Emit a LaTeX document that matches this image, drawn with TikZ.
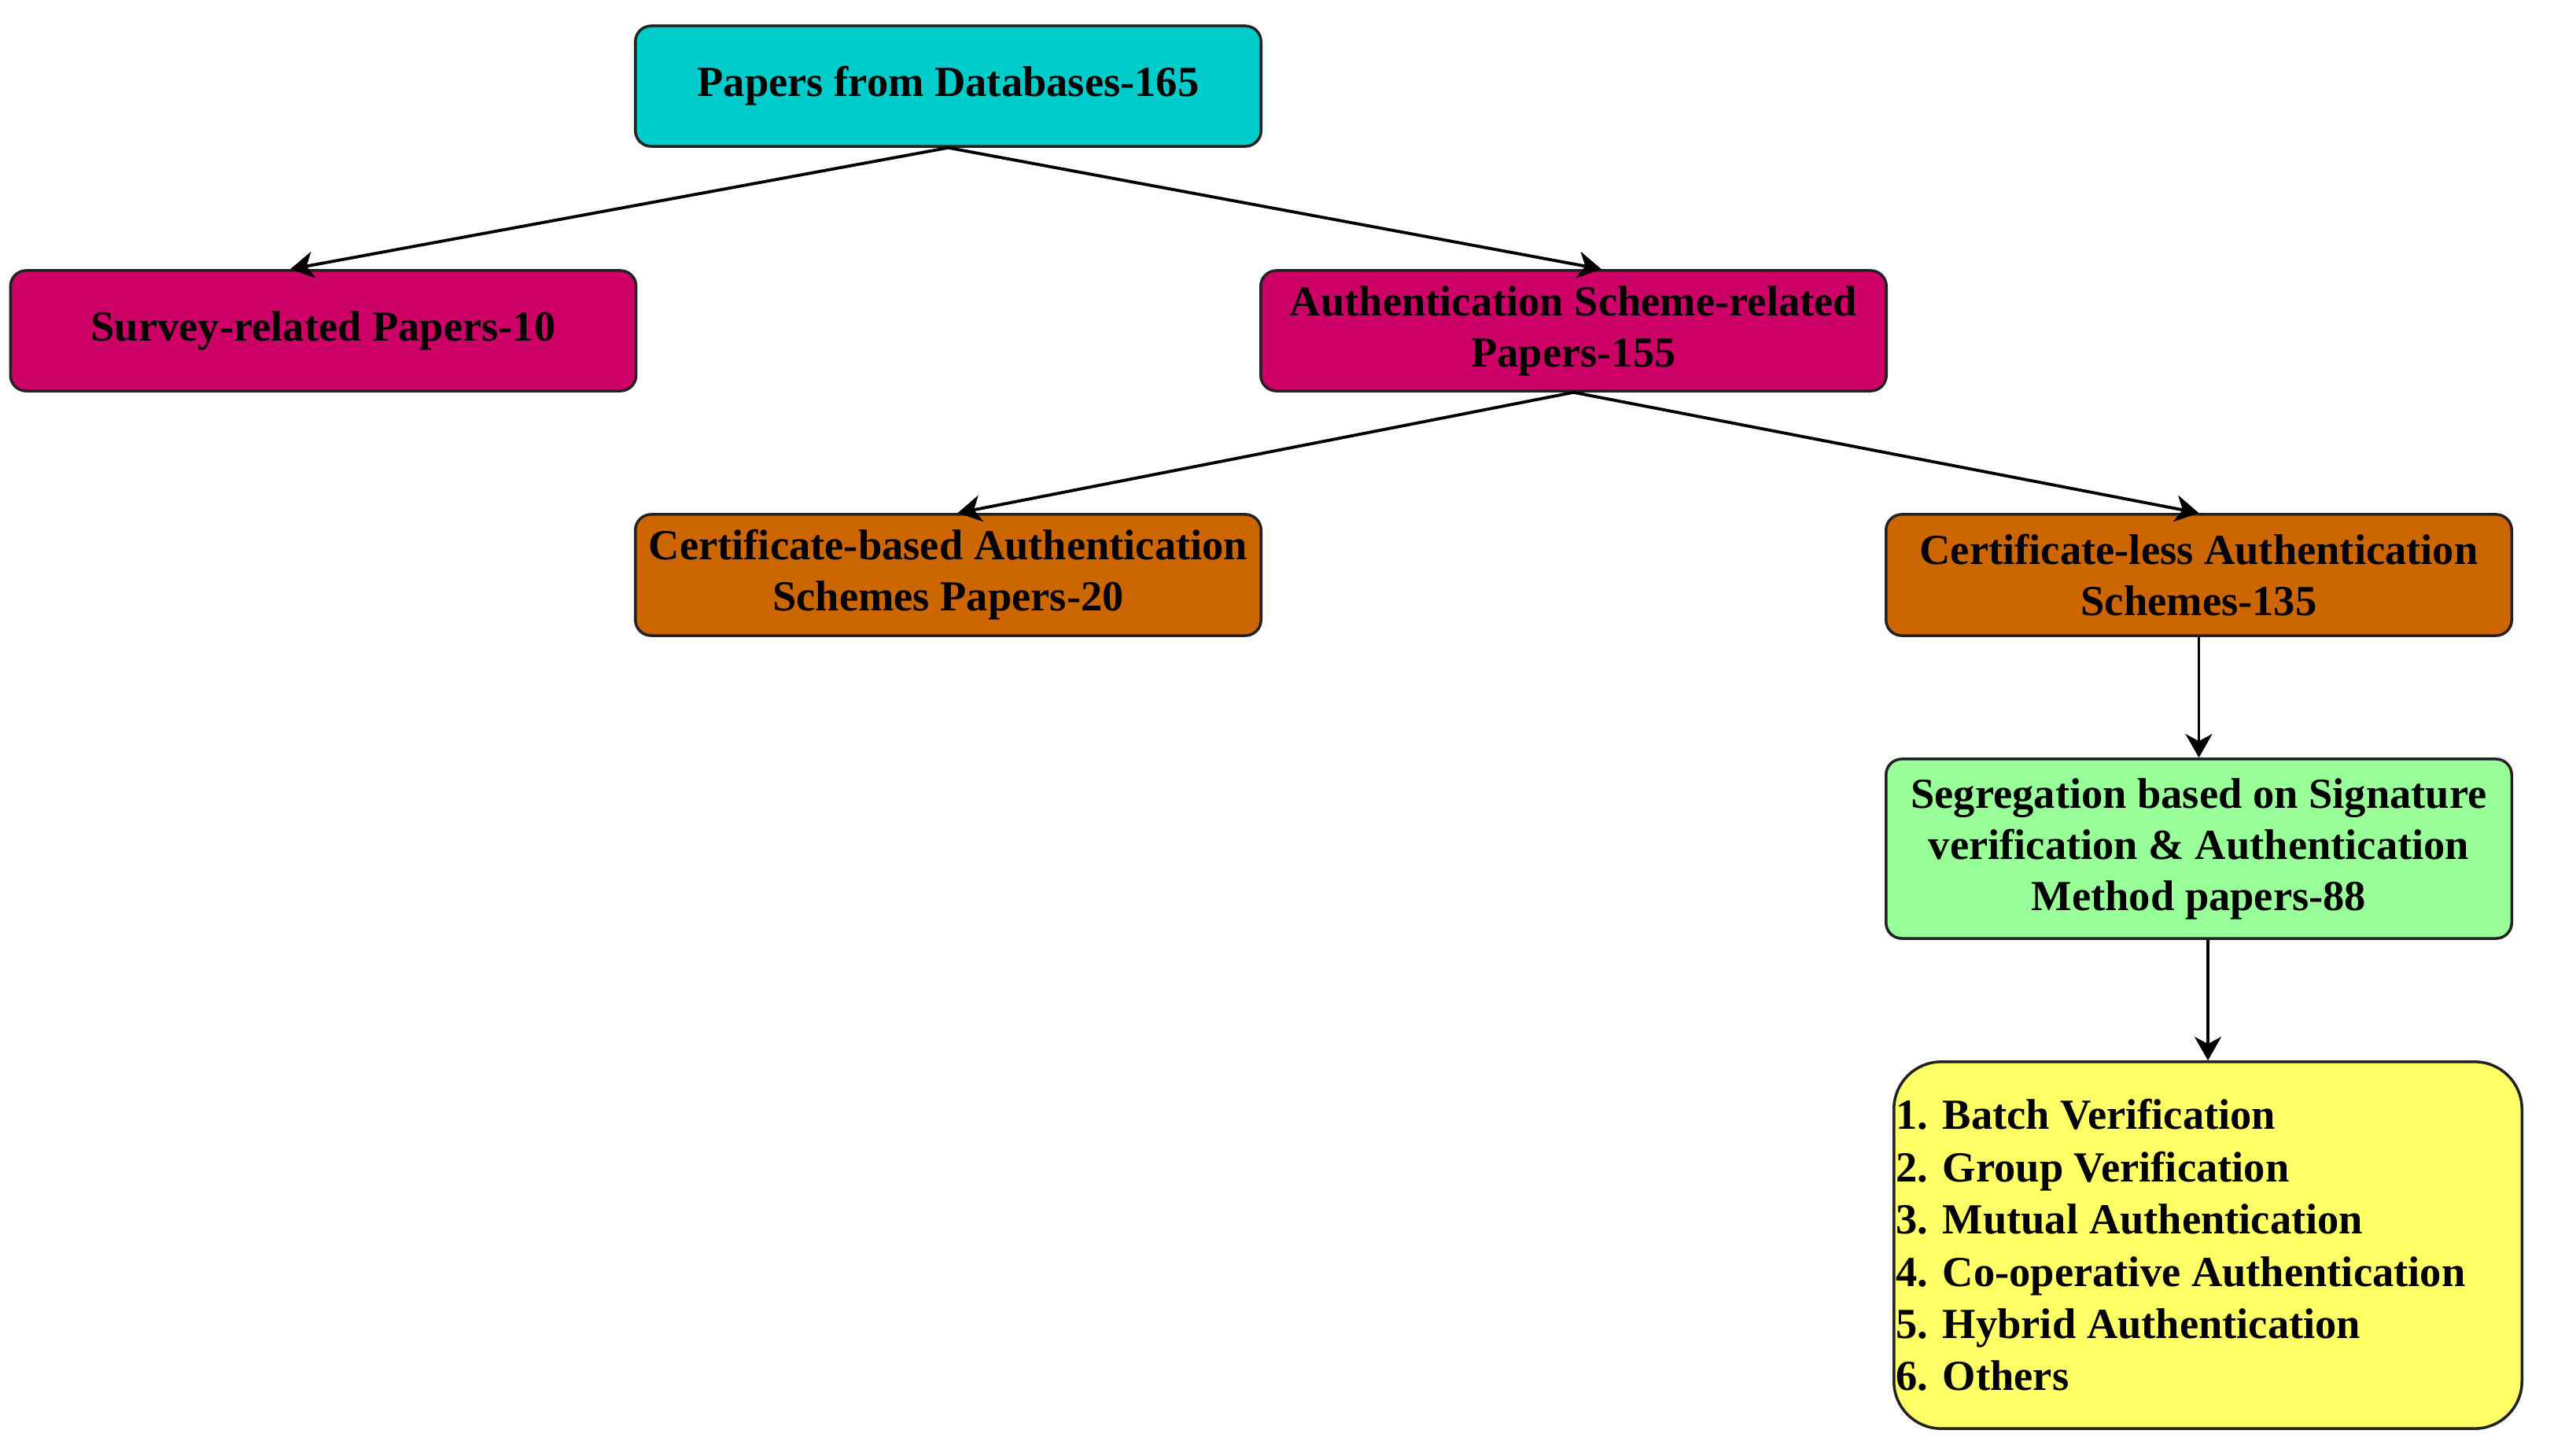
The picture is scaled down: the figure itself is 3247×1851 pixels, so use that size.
\documentclass[tikz,border=0pt]{standalone}
\usepackage{fontspec}
\setmainfont{Liberation Serif}
\usetikzlibrary{arrows.meta,calc}
\definecolor{cTop}{HTML}{00CCCC}
\definecolor{cMag}{HTML}{CC0066}
\definecolor{cOra}{HTML}{CC6600}
\definecolor{cGrn}{HTML}{99FF99}
\definecolor{cYel}{HTML}{FFFF66}
\definecolor{cEdge}{HTML}{222222}
\tikzset{
  box/.style={draw=cEdge, line width=1pt, rounded corners=0.2cm, align=center,
    font=\bfseries\fontsize{15.5}{18.5}\selectfont, inner sep=0pt,
    minimum width=7.95cm, minimum height=1.53cm},
  conn/.style={line width=1.1pt, -{Stealth[length=0.3cm, width=0.34cm, inset=0.09cm]}},
}
\begin{document}
\begin{tikzpicture}[x=0.01cm, y=-0.01cm]
\useasboundingbox (0,0) rectangle (3247,1851);
\node[box, fill=cTop] (top) at (1205.5,109.5) {Papers from Databases-165};
\node[box, fill=cMag] (surv) at (411,420.5) {Survey-related Papers-10};
\node[box, fill=cMag] (auth) at (2000.5,420.5) {Authentication Scheme-related\\Papers-155};
\node[box, fill=cOra, minimum height=1.54cm] (certb) at (1205.5,731) {Certificate-based Authentication\\Schemes Papers-20};
\node[box, fill=cOra, minimum height=1.54cm] (certl) at (2795.5,731) {Certificate-less Authentication\\Schemes-135};
\node[box, fill=cGrn, minimum height=2.28cm] (seg) at (2795.5,1079) {Segregation based on Signature\\verification \& Authentication\\Method papers-88};
\node[box, fill=cYel, rounded corners=0.6cm, minimum width=7.98cm, minimum height=4.66cm] (yel) at (2807,1583) {};
\node[font=\bfseries\fontsize{15.5}{18.5}\selectfont, align=left, anchor=west, inner sep=0pt] (list) at ([xshift=0.04cm]yel.west)
  {1. Batch Verification\\[0.4pt]2. Group Verification\\[0.4pt]3. Mutual Authentication\\[0.4pt]4. Co-operative Authentication\\[0.4pt]5. Hybrid Authentication\\[0.4pt]6. Others};
\draw[conn] (top.south) -- ([xshift=-0.42cm]surv.north);
\draw[conn] (top.south) -- ([xshift=0.355cm]auth.north);
\draw[conn] (auth.south) -- ([xshift=0.12cm]certb.north);
\draw[conn] (auth.south) -- (certl.north);
\draw[conn] (certl.south) -- (seg.north);
\draw[conn] (seg.south -| yel.north) -- (yel.north);
\end{tikzpicture}
\end{document}
